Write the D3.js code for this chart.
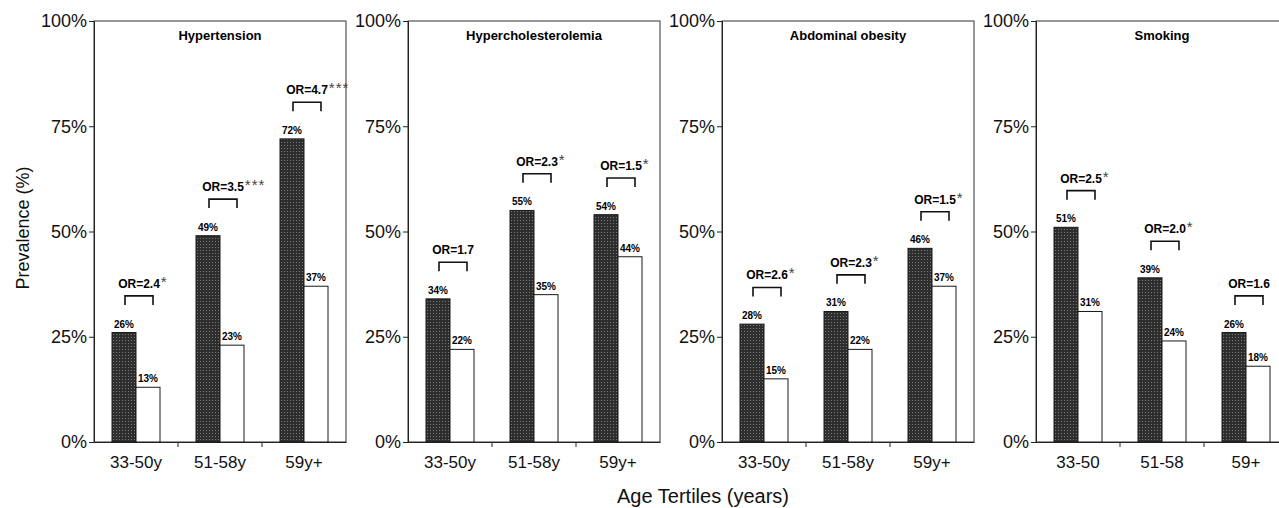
<!DOCTYPE html>
<html>
<head>
<meta charset="utf-8">
<script src="https://cdn.jsdelivr.net/npm/d3@7"></script>
<style>
  body { margin: 0; background: #fff; }
  svg { display: block; font-family: Arial, "Liberation Sans", sans-serif; }
</style>
</head>
<body>
<div class="chart"></div>
<script>
var panelTitles = ["Hypertension", "Hypercholesterolemia", "Abdominal obesity", "Smoking"];
var ageGroups = [
  ["33-50y", "51-58y", "59y+"],
  ["33-50y", "51-58y", "59y+"],
  ["33-50y", "51-58y", "59y+"],
  ["33-50", "51-58", "59+"]
];
var darkValues = [[26, 49, 72], [34, 55, 54], [28, 31, 46], [51, 39, 26]];
var lightValues = [[13, 23, 37], [22, 35, 44], [15, 22, 37], [31, 24, 18]];
var orValues = [["2.4", "3.5", "4.7"], ["1.7", "2.3", "1.5"], ["2.6", "2.3", "1.5"], ["2.5", "2.0", "1.6"]];
var orStars = [["*", "***", "***"], ["", "*", "*"], ["*", "*", "*"], ["*", "*", ""]];
var yTicks = [0, 25, 50, 75, 100];

var W = 1279, H = 508;
var marginTop = 21, plotH = 421, plotW = 252, firstLeft = 94, panelStep = 314;

var svg = d3.select(".chart").append("svg")
  .attr("width", W)
  .attr("height", H);

// stippled dark fill like the scanned bars
var pat = svg.append("defs").append("pattern")
  .attr("id", "stipple")
  .attr("patternUnits", "userSpaceOnUse")
  .attr("width", 3).attr("height", 3);
pat.append("rect").attr("width", 3).attr("height", 3).attr("fill", "#2e2e2e");
pat.append("rect").attr("x", 1).attr("y", 1).attr("width", 1).attr("height", 1).attr("fill", "#7a7a7a");

var y = d3.scaleLinear().domain([0, 100]).range([plotH, 0]);

panelTitles.forEach(function (title, p) {
  var g = svg.append("g")
    .attr("transform", "translate(" + (firstLeft + p * panelStep) + "," + marginTop + ")");

  var x = d3.scaleBand().domain(ageGroups[p]).range([0, plotW]);
  var inner = d3.scaleBand().domain(["dark", "light"]).range([0, x.bandwidth()]).paddingOuter(0.75);

  // frame
  g.append("rect")
    .attr("width", plotW).attr("height", plotH)
    .attr("fill", "none").attr("stroke", "#333").attr("stroke-width", 1);

  // y axis
  var ya = g.append("g")
    .call(d3.axisLeft(y).tickValues(yTicks).tickSize(5).tickPadding(2).tickFormat(function (d) { return d + "%"; }));
  ya.select(".domain").attr("stroke", "#222");
  ya.selectAll("line").attr("stroke", "#222");
  ya.selectAll("text").style("font-size", "18px").attr("fill", "#111");

  // x axis
  var xa = g.append("g")
    .attr("transform", "translate(0," + plotH + ")")
    .call(d3.axisBottom(x).tickSize(0).tickPadding(14));
  xa.select(".domain").attr("stroke", "#222");
  xa.selectAll("text").style("font-size", "17px").attr("fill", "#111");
  xa.selectAll(".sep")
    .data(ageGroups[p].slice(1))
    .enter().append("line")
      .attr("class", "sep")
      .attr("x1", function (d) { return x(d); })
      .attr("x2", function (d) { return x(d); })
      .attr("y1", 0).attr("y2", 5)
      .attr("stroke", "#222");

  // title
  g.append("text")
    .attr("x", plotW / 2).attr("y", 19)
    .attr("text-anchor", "middle")
    .style("font-size", "13px").style("font-weight", "bold")
    .text(title);

  ageGroups[p].forEach(function (cat, i) {
    var bars = [
      {key: "dark", value: darkValues[p][i]},
      {key: "light", value: lightValues[p][i]}
    ];
    var grp = g.append("g").attr("transform", "translate(" + x(cat) + ",0)");

    grp.selectAll("rect")
      .data(bars)
      .enter().append("rect")
        .attr("x", function (d) { return inner(d.key); })
        .attr("y", function (d) { return y(d.value); })
        .attr("width", inner.bandwidth())
        .attr("height", function (d) { return plotH - y(d.value); })
        .attr("fill", function (d) { return d.key === "dark" ? "url(#stipple)" : "#fff"; })
        .attr("stroke", "#1a1a1a")
        .attr("stroke-width", 1);

    grp.selectAll(".val")
      .data(bars)
      .enter().append("text")
        .attr("class", "val")
        .attr("x", function (d) { return inner(d.key) + inner.bandwidth() / 2; })
        .attr("y", function (d) { return y(d.value) - 5; })
        .attr("text-anchor", "middle")
        .style("font-size", "10px").style("font-weight", "bold")
        .text(function (d) { return d.value + "%"; });

    // odds ratio bracket
    var maxV = d3.max(bars, function (d) { return d.value; });
    var cx = x.bandwidth() / 2 + 3;
    var by = y(maxV + 8.7);
    grp.append("path")
      .attr("d", "M" + (cx - 14) + "," + (by + 9) + "V" + by + "H" + (cx + 14) + "V" + (by + 9))
      .attr("fill", "none").attr("stroke", "#111").attr("stroke-width", 1.6);

    var orText = grp.append("text")
      .attr("x", cx).attr("y", by - 8)
      .attr("text-anchor", "middle")
      .style("font-size", "12px").style("font-weight", "bold")
      .text("OR=" + orValues[p][i]);
    if (orStars[p][i]) {
      var wOr = orText.node().getComputedTextLength();
      grp.append("text")
        .attr("x", cx + wOr / 2 + 1).attr("y", by - 9)
        .style("font-size", "15px").attr("fill", "#444")
        .style("letter-spacing", "1px")
        .text(orStars[p][i]);
    }
  });
});

// shared axis titles
svg.append("text")
  .attr("transform", "translate(29,228) rotate(-90)")
  .attr("text-anchor", "middle")
  .style("font-size", "18px").attr("fill", "#111")
  .text("Prevalence (%)");

svg.append("text")
  .attr("x", 703).attr("y", 503)
  .attr("text-anchor", "middle")
  .style("font-size", "20px").attr("fill", "#111")
  .text("Age Tertiles (years)");
</script>
</body>
</html>
